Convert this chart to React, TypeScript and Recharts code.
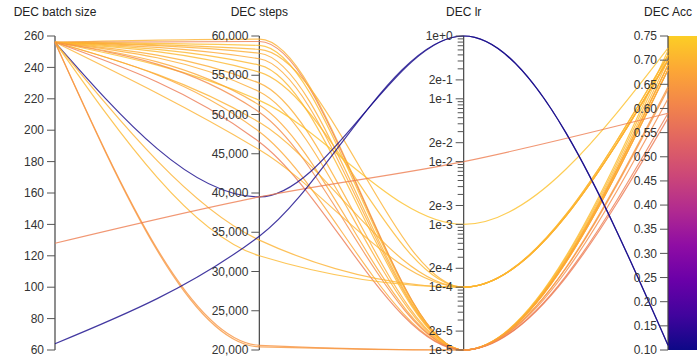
import { LineChart, Line, XAxis, YAxis, ReferenceLine, ReferenceDot, ReferenceArea } from "recharts";

const axisNames = ["DEC batch size", "DEC steps", "DEC lr", "DEC Acc"];

// one entry per run
const batchSize = [
  256, 256, 256, 256, 256, 256, 256, 256, 256, 256, 256, 256,
  256, 256, 256, 256, 256, 256, 256, 256, 256, 256, 128, 64,
];
const steps = [
  59600, 59300, 58800, 58300, 57800, 57100, 56300, 55400, 54000, 52900, 51800, 51200,
  50300, 49000, 47800, 46500, 45500, 39500, 34000, 32000, 20600, 20400, 39500, 34500,
];
const learningRate = [
  1e-5, 1e-5, 1e-5, 1e-4, 1e-5, 1e-5, 1e-5, 1e-4, 1e-5, 1e-5, 1e-3, 1e-5,
  1e-5, 1e-4, 1e-5, 1e-5, 1e-4, 1, 1e-4, 1e-4, 1e-5, 1e-5, 1e-2, 1,
];
const accuracy = [
  0.70, 0.59, 0.72, 0.70, 0.69, 0.68, 0.71, 0.71, 0.69, 0.69, 0.725, 0.68,
  0.62, 0.70, 0.68, 0.58, 0.70, 0.11, 0.70, 0.71, 0.64, 0.645, 0.59, 0.11,
];

const batchTicks = [60, 80, 100, 120, 140, 160, 180, 200, 220, 240, 260];
const stepTicks = [20000, 25000, 30000, 35000, 40000, 45000, 50000, 55000, 60000];
const lrTicks = [1e-5, 2e-5, 1e-4, 2e-4, 1e-3, 2e-3, 1e-2, 2e-2, 1e-1, 2e-1, 1];
const accTicks = [0.1, 0.15, 0.2, 0.25, 0.3, 0.35, 0.4, 0.45, 0.5, 0.55, 0.6, 0.65, 0.7, 0.75];

// each axis maps its own range onto 0..1
const toUnit = [
  (v: number) => (v - 60) / 200,
  (v: number) => (v - 20000) / 40000,
  (v: number) => (Math.log10(v) + 5) / 5,
  (v: number) => (v - 0.1) / 0.65,
];
const columns = [batchSize, steps, learningRate, accuracy];

const rows = axisNames.map((name, i) => {
  const row: Record<string, any> = { axis: name };
  columns[i].forEach((v, r) => (row[`run${r}`] = toUnit[i](v)));
  return row;
});

// plasma, trimmed at the yellow end
const plasma = [
  "#0d0887", "#41049d", "#6a00a8", "#8f0da4", "#b12a90",
  "#cc4778", "#e16462", "#f2844b", "#fca636", "#fcce25",
];

function mix(a: string, b: string, t: number) {
  const pa = [1, 3, 5].map((k) => parseInt(a.slice(k, k + 2), 16));
  const pb = [1, 3, 5].map((k) => parseInt(b.slice(k, k + 2), 16));
  return `rgb(${pa.map((c, k) => Math.round(c + (pb[k] - c) * t)).join(",")})`;
}

function accColor(v: number) {
  const t = Math.max(0, Math.min(1, toUnit[3](v))) * (plasma.length - 1);
  const i = Math.min(plasma.length - 2, Math.floor(t));
  return mix(plasma[i], plasma[i + 1], t - i);
}

const fmtLr = (v: number) => {
  const e = Math.floor(Math.log10(v) + 1e-9);
  const m = Math.round(v / Math.pow(10, e));
  return `${m}e${e < 0 ? e : "+" + e}`;
};

const lrMinor: number[] = [];
for (let e = -5; e < 0; e++) {
  for (let m = 3; m <= 9; m++) lrMinor.push(m * Math.pow(10, e));
}

const tickSets = [
  batchTicks.map((v) => ({ y: toUnit[0](v), label: String(v) })),
  stepTicks.map((v) => ({ y: toUnit[1](v), label: v.toLocaleString("en-US") })),
  [
    ...lrTicks.map((v) => ({ y: toUnit[2](v), label: fmtLr(v) })),
    ...lrMinor.map((v) => ({ y: toUnit[2](v), label: "" })),
  ],
  accTicks.map((v) => ({ y: toUnit[3](v), label: v.toFixed(2) })),
];

const font = "'Liberation Sans', Arial, Helvetica, sans-serif";

const Tick = ({ cx, cy, label }: any) => (
  <g>
    <line x1={cx - (label ? 8 : 6)} x2={cx} y1={cy} y2={cy} stroke="#555" strokeWidth={1} />
    {label && (
      <text x={cx - 11} y={cy} dy="0.35em" textAnchor="end" fontSize={12} fill="#333" fontFamily={font}>
        {label}
      </text>
    )}
  </g>
);

const Title = ({ cx, cy, label }: any) => (
  <text x={cx} y={cy - 20} textAnchor="middle" fontSize={12} fill="#222" fontFamily={font}>
    {label}
  </text>
);

const ColorBar = ({ x, y, height }: any) => (
  <g>
    <defs>
      <linearGradient id="accGradient" x1="0" y1="1" x2="0" y2="0">
        {plasma.map((c, i) => (
          <stop key={c} offset={i / (plasma.length - 1)} stopColor={c} />
        ))}
      </linearGradient>
    </defs>
    <rect x={x} y={y} width={40} height={height} fill="url(#accGradient)" />
  </g>
);

export default function App() {
  return (
    <div style={{ position: "absolute", left: 0, top: 0, width: 697, height: 360, overflow: "hidden", background: "#fff" }}>
      <LineChart width={697} height={360} data={rows} margin={{ top: 36, right: 29, bottom: 10, left: 55 }}>
        <XAxis dataKey="axis" hide scale="point" padding={{ left: 0, right: 0 }} />
        <YAxis hide type="number" domain={[0, 1]} />

        <ReferenceArea
          x1="DEC Acc" x2="DEC Acc" y1={0} y2={1}
          ifOverflow="visible"
          shape={(p: any) => <ColorBar {...p} />}
        />

        {axisNames.map((name) => (
          <ReferenceLine key={name} x={name} stroke="#444" strokeWidth={1.2} />
        ))}

        {axisNames.map((name, i) =>
          tickSets[i].map((t, k) => (
            <ReferenceDot
              key={`${name}-${k}`}
              x={name}
              y={t.y}
              r={0}
              ifOverflow="visible"
              shape={(p: any) => <Tick cx={p.cx} cy={p.cy} label={t.label} />}
            />
          ))
        )}

        {axisNames.map((name) => (
          <ReferenceDot
            key={`title-${name}`}
            x={name}
            y={1}
            r={0}
            ifOverflow="visible"
            shape={(p: any) => <Title cx={p.cx} cy={p.cy} label={name} />}
          />
        ))}

        {accuracy.map((a, r) => (
          <Line
            key={r}
            dataKey={`run${r}`}
            type="monotone"
            stroke={accColor(a)}
            strokeWidth={1.2}
            strokeOpacity={0.8}
            dot={false}
            activeDot={false}
            isAnimationActive={false}
          />
        ))}
      </LineChart>
    </div>
  );
}
